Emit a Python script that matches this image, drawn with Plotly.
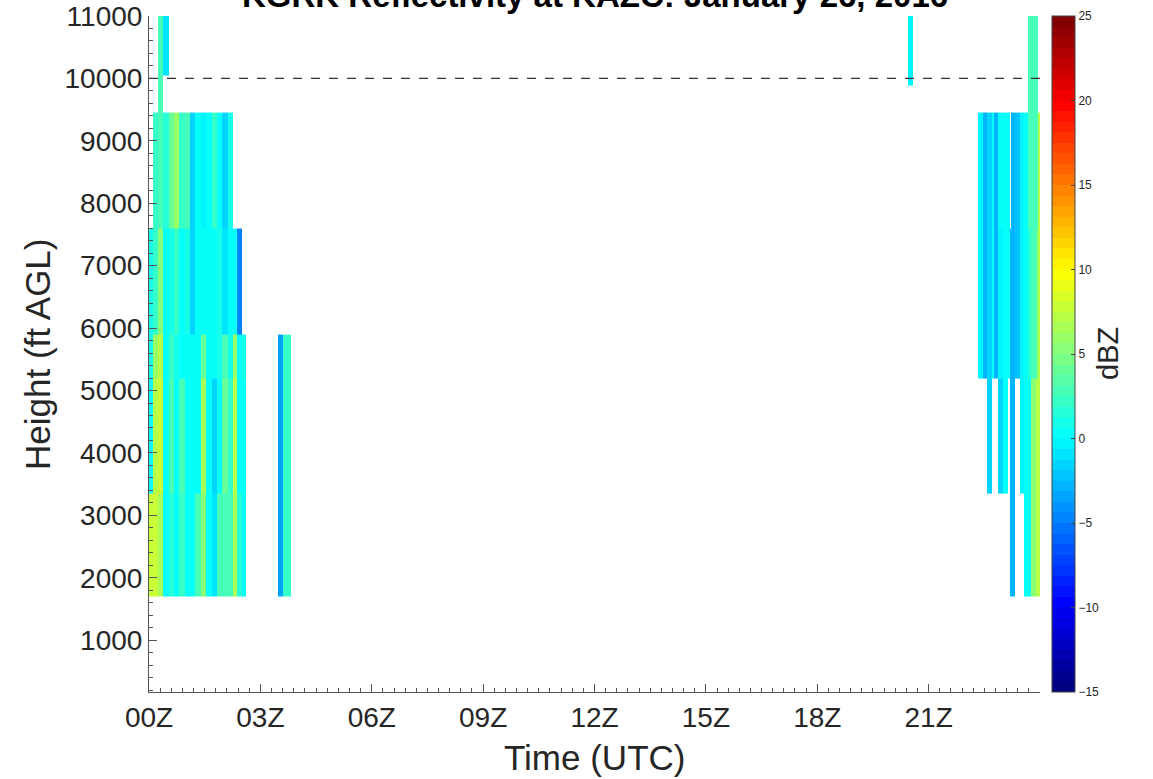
import plotly.graph_objects as go

N = None

# Height bin edges (ft AGL)
height_edges = [1700, 3350, 5200, 5900, 7600, 9450, 9880, 10050, 11200]

# Left block (00Z-02:37Z), time edges in hours UTC
left_edges = [0.00, 0.10, 0.244, 0.388, 0.532, 0.676, 0.82, 0.964, 1.108, 1.252,
              1.396, 1.54, 1.684, 1.828, 1.972, 2.116, 2.26, 2.38, 2.50, 2.61]
left_z = [
    [8, 8, 6.5, 0, 1.5, 0.5, 2, 0, 0.5, 3, 5, 0, -1, 2.5, 2.5, 3, 6.5, 1.5, 0],
    [0.5, 7, 7.5, 0, 3, 0, 3, 0, 0, 0.5, 6.5, 0, -1.5, 0, 4, 2, 7, 0, 0.5],
    [1, 6, 7, 0.5, 2, 1, 0, 0, 0.5, 0, 4, 0.5, 0, 1, 3, 1, 6, 0, 1],
    [1, 2, 5, 0, 1, 2, 0.5, 1, -1.5, 0, 0, 0.5, 0, 1, -1, 0, 0, -4.5, N],
    [N, 2, 2.5, 1.5, 4, 6, 2, 3, -1.5, 0, -0.5, 0, 2, 0.5, -1.5, 1, N, N, N],
    [N, N, 2.5, N, N, N, N, N, N, N, N, N, N, N, N, N, N, N, N],
    [N, N, 2.5, N, N, N, N, N, N, N, N, N, N, N, N, N, N, N, N],
    [N, N, 2.5, -1, N, N, N, N, N, N, N, N, N, N, N, N, N, N, N],
]

# Isolated scans near 03:30Z
mid_edges = [2.61, 3.48, 3.62, 3.82]
mid_z = [
    [N, -3.5, 2],
    [N, -3.5, 2],
    [N, -3.5, 2],
    [N, N, N],
    [N, N, N],
    [N, N, N],
    [N, N, N],
    [N, N, N],
]

# Isolated scan near 20:30Z
far_edges = [3.82, 20.45, 20.58, 22.32]
far_z = [
    [N, N, N],
    [N, N, N],
    [N, N, N],
    [N, N, N],
    [N, N, N],
    [N, N, N],
    [N, -0.5, N],
    [N, -0.5, N],
]

# Right block (22:19Z-24Z)
right_edges = [22.32, 22.47, 22.56, 22.70, 22.77, 22.86, 23.00, 23.15, 23.19,
               23.22, 23.33, 23.46, 23.58, 23.67, 23.76, 23.89, 23.95, 24.0]
right_z = [
    [N, N, N, N, N, N, N, N, -3, -3, N, N, 0, 0.5, 5, 7, 7],
    [N, N, -1.5, N, N, -1.5, 0.5, N, -3, -3, N, -0.5, 0, 0.5, 5, 7, 7],
    [-0.5, -3, -1.5, 0, -3, -0.5, 0.5, 0, -3, -3, -2, -0.5, 0, 1.5, 3, 4, 7],
    [-0.5, -3, -1.5, 0, -3, -0.5, 0.5, 0, -3, -3, -2, -0.5, 0, 1.5, 3, 4, 7],
    [-0.5, -3, -1.5, 0, -3, 0, 0.5, 0, N, -3, -2, -0.5, 0, 2.5, 2.5, 3, 7],
    [N, N, N, N, N, N, N, N, N, N, N, N, N, 2.5, 2.5, 2.5, N],
    [N, N, N, N, N, N, N, N, N, N, N, N, N, 2.5, 2.5, 2.5, N],
    [N, N, N, N, N, N, N, N, N, N, N, N, N, 2.5, 2.5, 2.5, N],
]

time_ticks = [0, 3, 6, 9, 12, 15, 18, 21]
time_labels = ["00Z", "03Z", "06Z", "09Z", "12Z", "15Z", "18Z", "21Z"]
height_ticks = [1000, 2000, 3000, 4000, 5000, 6000, 7000, 8000, 9000, 10000, 11000]
cbar_ticks = [-15, -10, -5, 0, 5, 10, 15, 20, 25]
ref_height = 10000

x_edges = left_edges + mid_edges[1:] + far_edges[1:] + right_edges[1:]
z = [left_z[r] + mid_z[r] + far_z[r] + right_z[r] for r in range(len(left_z))]


def jet_colorscale(n=64):
    def clip(v):
        return max(0.0, min(1.0, v))
    cs = []
    for i in range(n):
        t = i / (n - 1)
        r = clip(1.5 - abs(4 * t - 3))
        g = clip(1.5 - abs(4 * t - 2))
        b = clip(1.5 - abs(4 * t - 1))
        col = "rgb(%d,%d,%d)" % (round(r * 255), round(g * 255), round(b * 255))
        cs.append([i / n, col])
        cs.append([(i + 1) / n, col])
    return cs


FONT = "Liberation Sans, Arial, Helvetica, sans-serif"
AX = "#262626"

fig = go.Figure()
fig.add_trace(go.Heatmap(
    x=x_edges, y=height_edges, z=z,
    zmin=-15, zmax=25,
    colorscale=jet_colorscale(64),
    hoverongaps=False,
    colorbar=dict(
        x=1.0135, xanchor="left", xpad=0,
        y=0.5, yanchor="middle", len=1, lenmode="fraction", ypad=0,
        thickness=23, thicknessmode="pixels",
        outlinewidth=1, outlinecolor="#444",
        ticks="inside", ticklen=4, tickcolor="#444",
        tickvals=cbar_ticks,
        tickfont=dict(family=FONT, size=12, color=AX),
    ),
))

fig.add_shape(type="line", xref="x", yref="y", x0=0, x1=24,
              y0=ref_height, y1=ref_height, layer="above",
              line=dict(color="#333", width=1.2, dash="dash"))

fig.add_annotation(text="<b>KGRK Reflectivity at KAZC: January 26, 2016</b>",
                   xref="paper", yref="paper", x=0.5, y=1, yanchor="bottom",
                   yshift=0, showarrow=False,
                   font=dict(family=FONT, size=33, color="#000"))

fig.add_annotation(text="dBZ", xref="paper", yref="paper",
                   x=1.0, xanchor="center", xshift=68, y=0.5, yanchor="middle",
                   textangle=-90, showarrow=False,
                   font=dict(family=FONT, size=29, color=AX))

fig.add_annotation(text="Height (ft AGL)", xref="paper", yref="paper",
                   x=(37 - 149) / 891, xanchor="center", y=0.5, yanchor="middle",
                   textangle=-90, showarrow=False,
                   font=dict(family=FONT, size=35, color=AX))

fig.add_annotation(text="Time (UTC)", xref="paper", yref="paper",
                   x=0.5, xanchor="center", y=(692 - 757) / 676, yanchor="middle",
                   showarrow=False,
                   font=dict(family=FONT, size=35, color=AX))

fig.update_layout(
    width=1153, height=779,
    margin=dict(l=149, r=113, t=16, b=87),
    plot_bgcolor="white", paper_bgcolor="white",
    showlegend=False,
    xaxis=dict(
        range=[0, 24], tickvals=time_ticks, ticktext=time_labels,
        automargin=False,
        showgrid=False, zeroline=False, showline=True, linecolor="#555",
        linewidth=1, ticks="inside", ticklen=8, tickcolor="#555",
        tickfont=dict(family=FONT, size=28, color=AX),
        minor=dict(dtick=0.3, tick0=0, ticks="inside", ticklen=4, tickcolor="#555"),
    ),
    yaxis=dict(
        range=[170, 11000], tickvals=height_ticks, tickformat="d",
        automargin=False,
        showgrid=False, zeroline=False, showline=True, linecolor="#555",
        linewidth=1, ticks="inside", ticklen=8, tickcolor="#555",
        tickfont=dict(family=FONT, size=28, color=AX),
        minor=dict(dtick=200, tick0=0, ticks="inside", ticklen=4, tickcolor="#555"),
    ),
)

fig.write_html("out.html",
               config={"displayModeBar": False},
               post_script="document.body.style.margin='0px';document.body.style.overflow='hidden';")
